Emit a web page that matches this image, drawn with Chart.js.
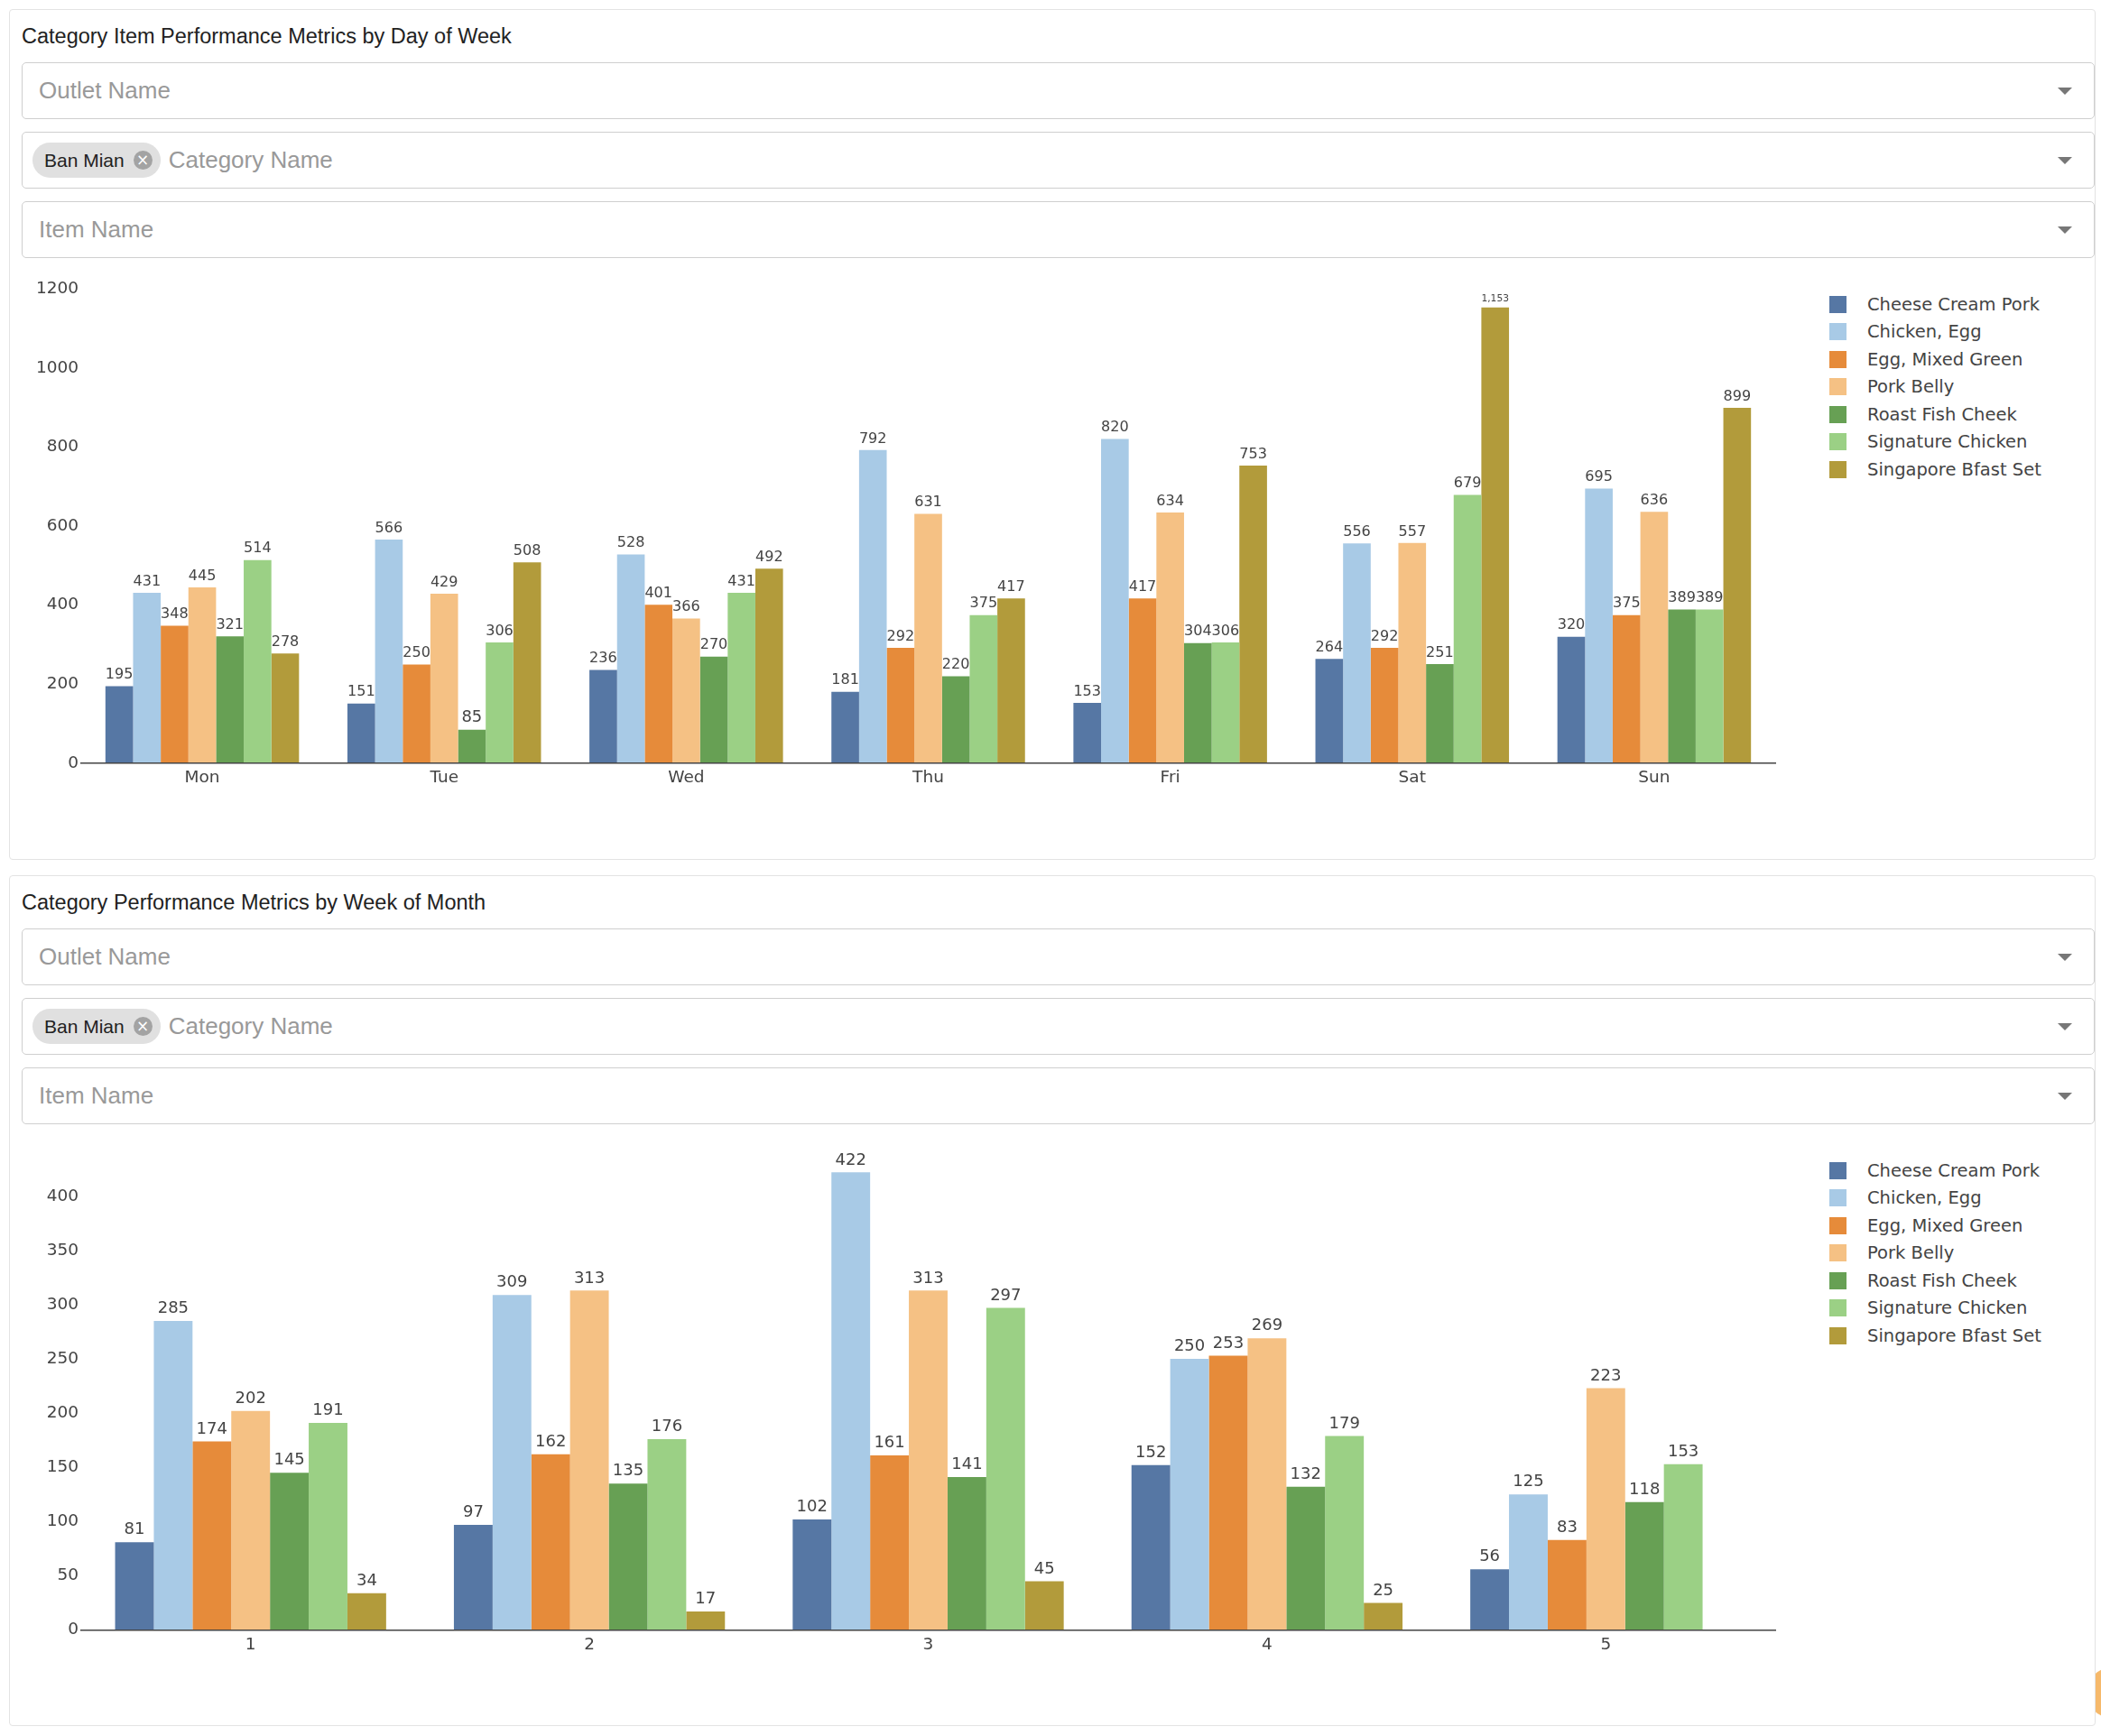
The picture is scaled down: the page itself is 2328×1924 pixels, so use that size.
<!DOCTYPE html>
<html>
<head>
<meta charset="utf-8">
<script src="https://cdn.jsdelivr.net/npm/chart.js@4.4.1/dist/chart.umd.min.js"></script>
<style>
  html, body { margin: 0; padding: 0; background: #fff; }
  body { width: 2328px; height: 1924px; position: relative; overflow: hidden; font-family: "Liberation Sans", Arial, sans-serif; }
  .section { position: absolute; left: 0; width: 2328px; height: 960px; }
  .card { position: absolute; left: 10px; top: 10px; width: 2312px; height: 943px; border: 1px solid #e3e3e3; border-radius: 4px; background: #fff; box-sizing: border-box; }
  .title { position: absolute; left: 24px; top: 29px; font-size: 23.5px; line-height: 23px; color: #222; white-space: nowrap; }
  .select { position: absolute; left: 24px; width: 2297px; height: 63px; border: 1px solid #cfcfcf; border-radius: 5px; box-sizing: border-box; background: #fff; display: flex; align-items: center; }
  .placeholder { font-size: 26px; color: #999; margin-left: 18px; white-space: nowrap; }
  .chip { margin-left: 11px; height: 39px; border-radius: 20px; background: #e0e0e0; display: flex; align-items: center; padding: 0 9px 0 13px; font-size: 21px; color: #222; white-space: nowrap; }
  .chip .x { width: 21px; height: 21px; border-radius: 50%; background: #a3a3a3; color: #fff; margin-left: 10px; font-size: 17px; line-height: 21px; text-align: center; font-family: "DejaVu Sans", sans-serif; }
  .chip + .placeholder { margin-left: 9px; }
  .arrow { position: absolute; right: 24px; top: 50%; margin-top: -4px; width: 0; height: 0; border-left: 8px solid transparent; border-right: 8px solid transparent; border-top: 8px solid #777; }
  .plot { position: absolute; left: 0; top: 290px; width: 1990px; height: 600px; }
  .legend { position: absolute; left: 2027px; top: 322px; font-family: "DejaVu Sans", sans-serif; font-size: 19.5px; color: #444; }
  .legend .row { height: 30.5px; display: flex; align-items: center; white-space: nowrap; }
  .legend .sw { width: 19px; height: 19px; margin-right: 23px; }
  .blob { position: absolute; left: 2312px; top: 1848px; width: 56px; height: 56px; border-radius: 50%; background: #f6b96b; }
</style>
</head>
<body>
<div class="blob"></div>

<div class="section" style="top:0">
  <div class="card"></div>
  <div class="title">Category Item Performance Metrics by Day of Week</div>
  <div class="select" style="top:69px"><span class="placeholder">Outlet Name</span><span class="arrow"></span></div>
  <div class="select" style="top:146px"><span class="chip">Ban Mian<span class="x">×</span></span><span class="placeholder">Category Name</span><span class="arrow"></span></div>
  <div class="select" style="top:223px"><span class="placeholder">Item Name</span><span class="arrow"></span></div>
  <div class="plot"><canvas id="dayChart" width="1990" height="600"></canvas></div>
  <div class="legend" id="dayLegend"></div>
</div>

<div class="section" style="top:960px">
  <div class="card"></div>
  <div class="title">Category Performance Metrics by Week of Month</div>
  <div class="select" style="top:69px"><span class="placeholder">Outlet Name</span><span class="arrow"></span></div>
  <div class="select" style="top:146px"><span class="chip">Ban Mian<span class="x">×</span></span><span class="placeholder">Category Name</span><span class="arrow"></span></div>
  <div class="select" style="top:223px"><span class="placeholder">Item Name</span><span class="arrow"></span></div>
  <div class="plot"><canvas id="weekChart" width="1990" height="600"></canvas></div>
  <div class="legend" id="weekLegend"></div>
</div>

<script>
// items and colours
const itemNames = ['Cheese Cream Pork', 'Chicken, Egg', 'Egg, Mixed Green', 'Pork Belly', 'Roast Fish Cheek', 'Signature Chicken', 'Singapore Bfast Set'];
const itemColors = ['#5677a4', '#a8cae6', '#e68b3a', '#f5c184', '#67a054', '#9bd085', '#b29b3b'];

// day of week chart
const dayLabels = ['Mon', 'Tue', 'Wed', 'Thu', 'Fri', 'Sat', 'Sun'];
const dayCheeseCreamPork = [195, 151, 236, 181, 153, 264, 320];
const dayChickenEgg = [431, 566, 528, 792, 820, 556, 695];
const dayEggMixedGreen = [348, 250, 401, 292, 417, 292, 375];
const dayPorkBelly = [445, 429, 366, 631, 634, 557, 636];
const dayRoastFishCheek = [321, 85, 270, 220, 304, 251, 389];
const daySignatureChicken = [514, 306, 431, 375, 306, 679, 389];
const daySingaporeBfast = [278, 508, 492, 417, 753, 1153, 899];
const dayTicks = [0, 200, 400, 600, 800, 1000, 1200];

// week of month chart
const weekLabels = ['1', '2', '3', '4', '5'];
const weekCheeseCreamPork = [81, 97, 102, 152, 56];
const weekChickenEgg = [285, 309, 422, 250, 125];
const weekEggMixedGreen = [174, 162, 161, 253, 83];
const weekPorkBelly = [202, 313, 313, 269, 223];
const weekRoastFishCheek = [145, 135, 141, 132, 118];
const weekSignatureChicken = [191, 176, 297, 179, 153];
const weekSingaporeBfast = [34, 17, 45, 25, null];
const weekTicks = [0, 50, 100, 150, 200, 250, 300, 350, 400];

const chartFont = '"DejaVu Sans", Verdana, sans-serif';

// value labels above bars, shrunk to fit the bar width
const barLabels = {
    id: 'barLabels',
    afterDatasetsDraw(chart) {
        const ctx = chart.ctx;
        ctx.save();
        ctx.fillStyle = '#444';
        ctx.textAlign = 'center';
        ctx.textBaseline = 'alphabetic';
        chart.data.datasets.forEach((ds, di) => {
            const meta = chart.getDatasetMeta(di);
            meta.data.forEach((bar, i) => {
                const v = ds.data[i];
                if (v === null || v === undefined) return;
                const text = v.toLocaleString('en-US');
                ctx.font = '18px ' + chartFont;
                const w = ctx.measureText(text).width;
                const size = Math.min(18, 18 * bar.width / w);
                ctx.font = size + 'px ' + chartFont;
                ctx.fillText(text, bar.x, bar.y - 4.5 - size * 0.24);
            });
        });
        ctx.restore();
    }
};

function buildLegend(id) {
    const el = document.getElementById(id);
    itemNames.forEach((name, i) => {
        const row = document.createElement('div');
        row.className = 'row';
        row.innerHTML = `<span class="sw" style="background:${itemColors[i]}"></span><span>${name}</span>`;
        el.appendChild(row);
    });
}

function makeChart(canvasId, labels, series, ticks, yMax, padTop, padBottom) {
    const ctx = document.getElementById(canvasId).getContext('2d');
    return new Chart(ctx, {
        type: 'bar',
        data: {
            labels: labels,
            datasets: series.map((data, i) => ({
                label: itemNames[i],
                data: data,
                backgroundColor: itemColors[i],
                borderWidth: 0,
                categoryPercentage: 0.8,
                barPercentage: 1.0
            }))
        },
        options: {
            responsive: false,
            animation: false,
            layout: { padding: { left: 0, right: 23, top: padTop, bottom: padBottom } },
            plugins: {
                legend: { display: false },
                tooltip: { enabled: false }
            },
            scales: {
                x: {
                    grid: { display: false, drawTicks: false },
                    border: { display: true, color: '#444', width: 1.5, z: 1 },
                    ticks: { color: '#444', font: { family: chartFont, size: 18.5 }, padding: 5.5 },
                    afterFit: s => { s.height = 40; }
                },
                y: {
                    min: 0,
                    max: yMax,
                    grid: { display: false, drawTicks: false },
                    border: { display: false },
                    afterBuildTicks: s => { s.ticks = ticks.map(v => ({ value: v })); },
                    ticks: {
                        color: '#444',
                        font: { family: chartFont, size: 18.5 },
                        padding: 3,
                        callback: v => String(v)
                    },
                    afterFit: s => { s.width = 90; }
                }
            }
        },
        plugins: [barLabels]
    });
}

buildLegend('dayLegend');
buildLegend('weekLegend');

makeChart('dayChart', dayLabels,
    [dayCheeseCreamPork, dayChickenEgg, dayEggMixedGreen, dayPorkBelly, dayRoastFishCheek, daySignatureChicken, daySingaporeBfast],
    dayTicks, 1230, 16.9, 4);

makeChart('weekChart', weekLabels,
    [weekCheeseCreamPork, weekChickenEgg, weekEggMixedGreen, weekPorkBelly, weekRoastFishCheek, weekSignatureChicken, weekSingaporeBfast],
    weekTicks, 430, 39.75, 3.5);
</script>
</body>
</html>
